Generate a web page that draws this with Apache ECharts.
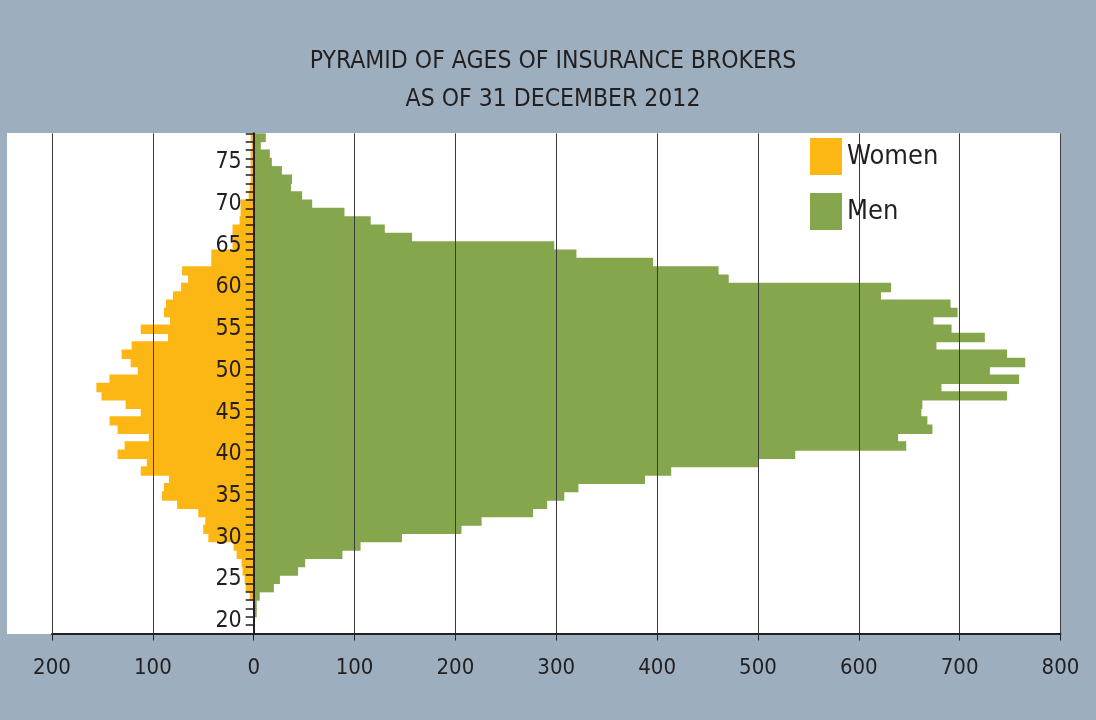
<!DOCTYPE html>
<html>
<head>
<meta charset="utf-8">
<title>Pyramid of ages of insurance brokers</title>
<script src="https://cdn.jsdelivr.net/npm/echarts@6/dist/echarts.min.js"></script>
<style>
  html, body { margin: 0; padding: 0; background: #9DAFBE; }
  #chart { width: 1096px; height: 720px; }
</style>
</head>
<body>
<div id="chart"></div>
<script>
// ages 19..78, one band each
var ages = ['19', '20', '21', '22', '23', '24', '25', '26', '27', '28',
  '29', '30', '31', '32', '33', '34', '35', '36', '37', '38',
  '39', '40', '41', '42', '43', '44', '45', '46', '47', '48',
  '49', '50', '51', '52', '53', '54', '55', '56', '57', '58',
  '59', '60', '61', '62', '63', '64', '65', '66', '67', '68',
  '69', '70', '71', '72', '73', '74', '75', '76', '77', '78'];

var women = [0, 0, 0, 0, 4, 8, 9, 11, 12, 17,
  20, 45, 50, 48, 55, 76, 91, 89, 84, 112,
  106, 135, 128, 104, 135, 143, 112, 127, 151, 156,
  143, 115, 122, 131, 121, 85, 112, 83, 89, 87,
  80, 72, 65, 71, 42, 42, 21, 21, 21, 14,
  13, 13, 5, 4, 3, 3, 3, 3, 2, 3];

var men = [0, 0, 3, 3, 6, 20, 26, 44, 51, 88,
  106, 147, 206, 226, 277, 291, 308, 322, 388, 414,
  500, 537, 647, 639, 673, 668, 662, 663, 747, 682,
  759, 730, 765, 747, 677, 725, 692, 674, 698, 691,
  622, 632, 471, 461, 396, 320, 298, 157, 130, 116,
  90, 58, 48, 37, 38, 28, 18, 16, 7, 12];

var xTicks = [-200, -100, 0, 100, 200, 300, 400, 500, 600, 700, 800];

var FONT = "'Liberation Sans Narrow', 'DejaVu Sans Condensed', 'Roboto', sans-serif";
var INK = '#231F20';
var YELLOW = '#FCB715';
var GREEN = '#85A64C';

var chart = echarts.init(document.getElementById('chart'));

var option = {
  backgroundColor: '#9DAFBE',
  animation: false,
  textStyle: { fontFamily: FONT, color: INK },
  title: {
    text: 'PYRAMID OF AGES OF INSURANCE BROKERS\nAS OF 31 DECEMBER 2012',
    left: 553,
    top: 43,
    padding: 0,
    textAlign: 'center',
    textStyle: {
      fontFamily: FONT,
      fontSize: 24.5,
      fontWeight: 'normal',
      lineHeight: 38,
      color: INK
    }
  },
  graphic: [{
    type: 'rect',
    z: -10,
    shape: { x: 7, y: 133, width: 1054, height: 501 },
    style: { fill: '#ffffff' }
  }],
  legend: {
    data: ['Women', 'Men'],
    orient: 'vertical',
    left: 810,
    top: 138,
    padding: 0,
    icon: 'rect',
    itemWidth: 32,
    itemHeight: 37,
    itemGap: 18,
    textStyle: { fontFamily: FONT, fontSize: 27, color: INK }
  },
  grid: {
    left: 52,
    right: 35.5,
    top: 133.3,
    bottom: 86.5
  },
  xAxis: {
    type: 'value',
    min: xTicks[0],
    max: xTicks[xTicks.length - 1],
    interval: 100,
    z: 4, // grid lines run over the bars
    axisLine: { show: true, lineStyle: { color: INK, width: 2 } },
    axisTick: { show: true, length: 7, lineStyle: { color: INK, width: 1 } },
    axisLabel: {
      margin: 24,
      fontFamily: FONT,
      fontSize: 22,
      color: INK,
      formatter: function (v) { return Math.abs(v); }
    },
    splitLine: { show: true, lineStyle: { color: '#3a3a3a', width: 1 } }
  },
  yAxis: {
    type: 'category',
    data: ages,
    z: 5,
    // put the age axis on the zero line
    offset: -201.7,
    axisLine: { show: true, onZero: false, lineStyle: { color: INK, width: 2 } },
    axisTick: { show: true, interval: 0, length: 8, lineStyle: { color: INK, width: 1.5 } },
    axisLabel: {
      margin: 12,
      fontFamily: FONT,
      fontSize: 23,
      color: INK,
      interval: function (idx, val) { return Number(val) % 5 === 0; }
    },
    splitLine: { show: false }
  },
  series: [{
    name: 'Women',
    type: 'bar',
    data: women.map(function (v) { return -v; }),
    barGap: '-100%',
    barWidth: 9.4,
    itemStyle: { color: YELLOW }
  }, {
    name: 'Men',
    type: 'bar',
    data: men,
    barGap: '-100%',
    barWidth: 9.4,
    itemStyle: { color: GREEN }
  }]
};

chart.setOption(option);
</script>
</body>
</html>
